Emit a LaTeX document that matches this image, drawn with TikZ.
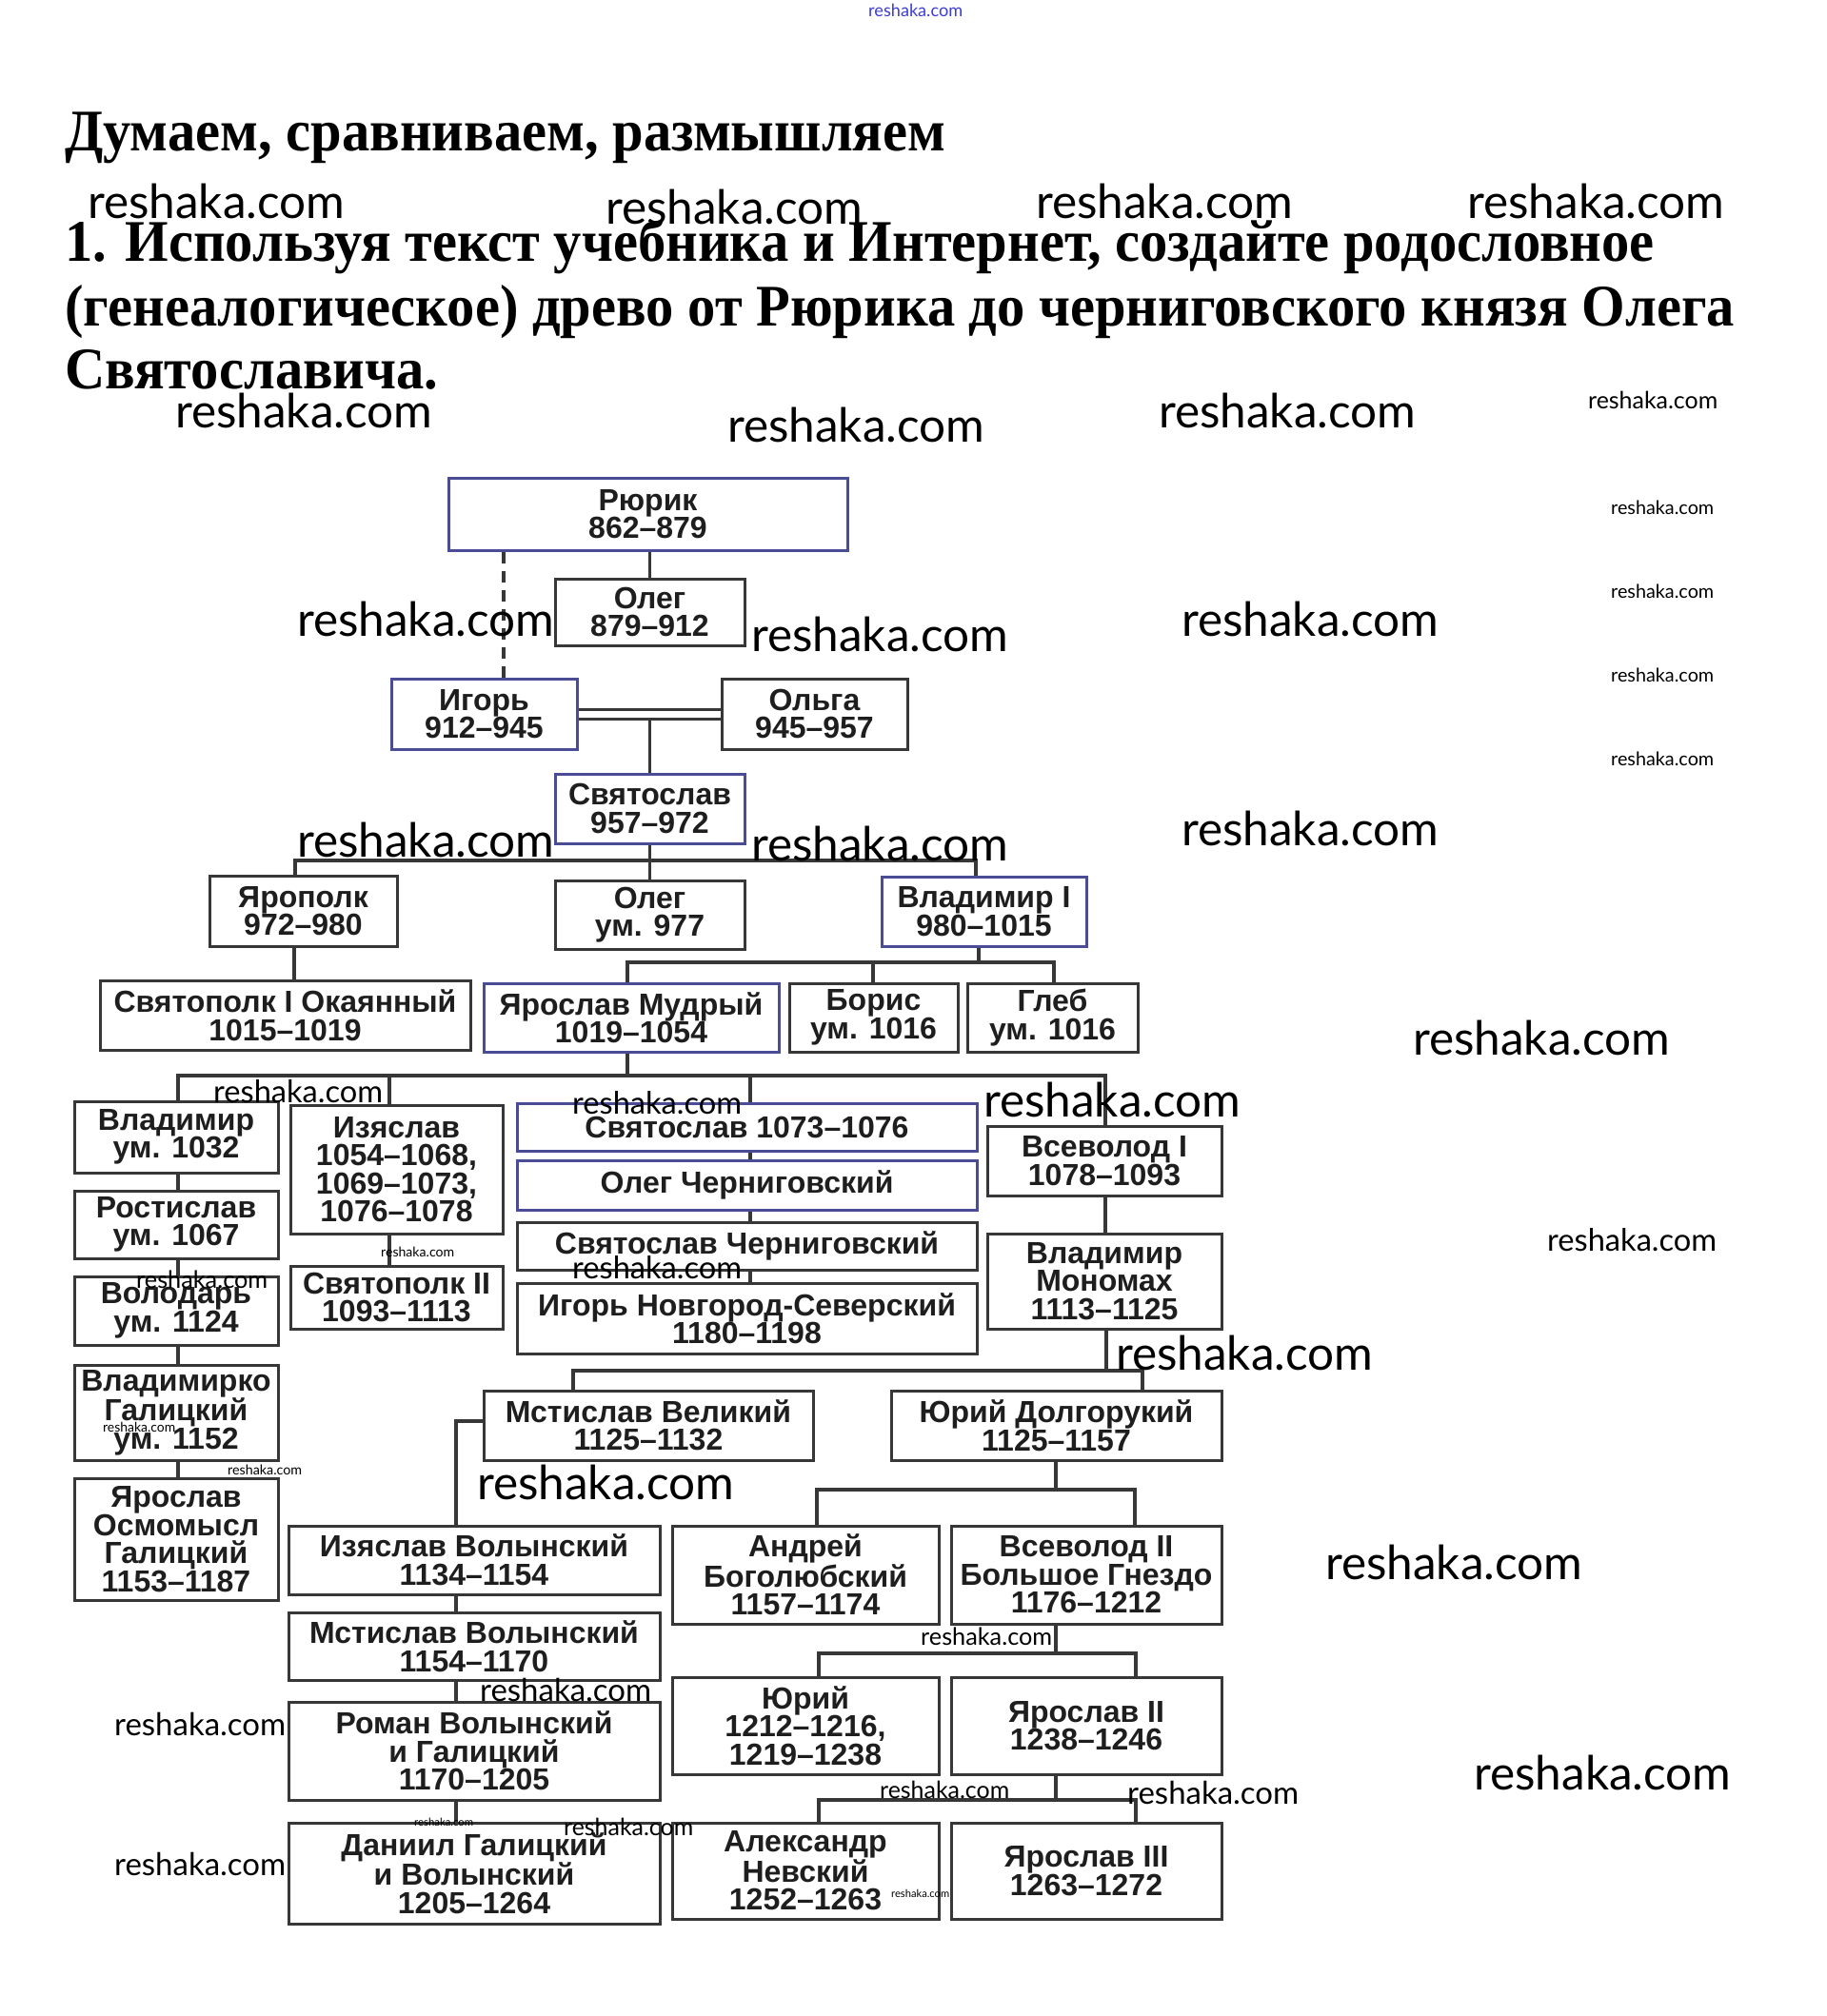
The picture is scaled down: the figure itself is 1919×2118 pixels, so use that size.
\documentclass[tikz,border=0pt]{standalone}
\usepackage{graphicx}
\usepackage{fontspec}
\setmainfont{Liberation Serif}
\newfontfamily\boxfont{Liberation Sans}
\newfontfamily\wmfont{Lato}
\definecolor{bluebd}{RGB}{75,76,150}
\definecolor{graybd}{RGB}{55,55,55}
\definecolor{txt}{RGB}{30,30,30}
\definecolor{wmblue}{RGB}{60,60,220}
\newcommand\wmk[1]{\resizebox{#1pt}{!}{\wmfont reshaka.com}}
\newcommand\hd[1]{\scalebox{0.944}[1]{#1}}
\tikzset{
 pbox/.style={draw=graybd, line width=3pt, fill=white, inner sep=0pt, align=center,
   font=\boxfont\bfseries\fontsize{32}{29.5}\selectfont, text=txt},
 lbox/.style={pbox, draw=bluebd},
 conn/.style={line width=3.5pt, draw=graybd},
 wm/.style={anchor=west, inner sep=0pt, text=black},
 head/.style={anchor=base west, inner sep=0pt, font=\bfseries\fontsize{62}{68}\selectfont},
}
\begin{document}
\begin{tikzpicture}[x=1pt,y=-1pt]
\useasboundingbox[fill=white] (0,0) rectangle (1919,2118);

% headings
\node[head] (t1) at (68,158) {\hd{Думаем, сравниваем, размышляем}};
\node[head] (t2) at (68,274) {\hd{1. Используя текст учебника и Интернет, создайте родословное}};
\node[head] (t3) at (68,342) {\hd{(генеалогическое) древо от Рюрика до черниговского князя Олега}};
\node[head] (t4) at (68,408) {\hd{Святославича.}};

% boxes
\node[lbox, minimum width=419pt, minimum height=76pt] (rurik) at (680.5,540) {Рюрик\\862–879};
\node[pbox, minimum width=199pt, minimum height=70pt] (oleg1) at (682.5,643) {Олег\\879–912};
\node[lbox, minimum width=195pt, minimum height=74pt] (igor) at (508.5,750) {Игорь\\912–945};
\node[pbox, minimum width=195pt, minimum height=74pt] (olga) at (855.5,750) {Ольга\\945–957};
\node[lbox, minimum width=199pt, minimum height=73pt] (svyat) at (682.5,849.5) {Святослав\\957–972};
\node[pbox, minimum width=197pt, minimum height=74pt] (yaropolk) at (318.5,957) {Ярополк\\972–980};
\node[pbox, minimum width=199pt, minimum height=72pt] (oleg2) at (682.5,961) {Олег\\ум. 977};
\node[lbox, minimum width=215pt, minimum height=73pt] (vlad1) at (1033.5,957.5) {Владимир I\\980–1015};
\node[pbox, minimum width=389pt, minimum height=73pt] (svyatopolk1) at (299.5,1066.5) {Святополк I Окаянный\\1015–1019};
\node[lbox, minimum width=310pt, minimum height=72pt] (yaroslav) at (663,1069) {Ярослав Мудрый\\1019–1054};
\node[pbox, minimum width=177pt, minimum height=72pt] (boris) at (917.5,1069) {Борис\\ум. 1016};
\node[pbox, minimum width=179pt, minimum height=72pt] (gleb) at (1105.5,1069) {Глеб\\ум. 1016};
\node[pbox, minimum width=214pt, minimum height=75pt] (vlad1032) at (185,1194.5) {Владимир\\ум. 1032};
\node[pbox, minimum width=223pt, minimum height=135pt] (izyaslav) at (416.5,1228.5) {Изяслав\\1054–1068,\\1069–1073,\\1076–1078};
\node[lbox, minimum width=483pt, minimum height=50pt] (svyat1073) at (784.5,1184) {Святослав 1073–1076};
\node[lbox, minimum width=483pt, minimum height=52pt] (olegch) at (784.5,1245) {Олег Черниговский};
\node[pbox, minimum width=483pt, minimum height=50pt] (svyatch) at (784.5,1309) {Святослав Черниговский};
\node[pbox, minimum width=483pt, minimum height=74pt] (igorns) at (784.5,1385) {Игорь Новгород-Северский\\1180–1198};
\node[pbox, minimum width=246pt, minimum height=73pt] (vsevolod1) at (1160,1219.5) {Всеволод I\\1078–1093};
\node[pbox, minimum width=246pt, minimum height=100pt] (monomakh) at (1160,1346) {Владимир\\Мономах\\1113–1125};
\node[pbox, minimum width=214pt, minimum height=71pt] (rostislav) at (185,1286.5) {Ростислав\\ум. 1067};
\node[pbox, minimum width=214pt, minimum height=72pt] (volodar) at (185,1377) {Володарь\\ум. 1124};
\node[pbox, minimum width=223pt, minimum height=66pt] (svyatopolk2) at (416.5,1363) {Святополк II\\1093–1113};
\node[pbox, minimum width=214pt, minimum height=100pt] (vladimirko) at (185,1484) {Владимирко\\Галицкий\\ум. 1152};
\node[pbox, minimum width=214pt, minimum height=128pt] (osmomysl) at (185,1617) {Ярослав\\Осмомысл\\Галицкий\\1153–1187};
\node[pbox, minimum width=346pt, minimum height=73pt] (mstislavv) at (681,1497.5) {Мстислав Великий\\1125–1132};
\node[pbox, minimum width=347pt, minimum height=73pt] (yuridolg) at (1109.5,1497.5) {Юрий Долгорукий\\1125–1157};
\node[pbox, minimum width=390pt, minimum height=72pt] (izyaslavvol) at (498,1639) {Изяслав Волынский\\1134–1154};
\node[pbox, minimum width=390pt, minimum height=71pt] (mstislavvol) at (498,1729.5) {Мстислав Волынский\\1154–1170};
\node[pbox, minimum width=390pt, minimum height=103pt] (roman) at (498,1839.5) {Роман Волынский\\и Галицкий\\1170–1205};
\node[pbox, minimum width=390pt, minimum height=106pt] (daniil) at (498,1968) {Даниил Галицкий\\и Волынский\\1205–1264};
\node[pbox, minimum width=280pt, minimum height=103pt] (andrey) at (846,1654.5) {Андрей\\Боголюбский\\1157–1174};
\node[pbox, minimum width=284pt, minimum height=103pt] (vsevolod2) at (1141,1654.5) {Всеволод II\\Большое Гнездо\\1176–1212};
\node[pbox, minimum width=280pt, minimum height=102pt] (yuri) at (846,1813) {Юрий\\1212–1216,\\1219–1238};
\node[pbox, minimum width=284pt, minimum height=102pt] (yaroslav2) at (1141,1813) {Ярослав II\\1238–1246};
\node[pbox, minimum width=280pt, minimum height=101pt] (alexandr) at (846,1965.5) {Александр\\Невский\\1252–1263};
\node[pbox, minimum width=284pt, minimum height=101pt] (yaroslav3) at (1141,1965.5) {Ярослав III\\1263–1272};

% connectors
\draw[conn] (rurik.south -| oleg1.north) -- (oleg1.north);
\draw[conn, dash pattern=on 12pt off 8pt] (rurik.south -| 529,0) -- (igor.north -| 529,0);
\draw[conn, line width=3pt] (igor.east |- 0,745) -- (olga.west |- 0,745);
\draw[conn, line width=3pt] (igor.east |- 0,755) -- (olga.west |- 0,755);
\draw[conn] (svyat.north) -- (svyat.north |- 0,755);
\draw[conn] (yaropolk.north -| 310,0) -- (310,904) -- (1025,904) -- (vlad1.north -| 1025,0);
\draw[conn] (svyat.south) -- (oleg2.north);
\draw[conn] (yaropolk.south -| 309,0) -- (svyatopolk1.north -| 309,0);
\draw[conn] (vlad1.south -| 1028,0) -- (1028,1011);
\draw[conn] (yaroslav.north -| 659,0) -- (659,1011) -- (1107,1011) -- (gleb.north -| 1107,0);
\draw[conn] (boris.north -| 917,0) -- (917,1011);
\draw[conn] (yaroslav.south -| 659,0) -- (659,1130);
\draw[conn] (vlad1032.north -| 187,0) -- (187,1130) -- (1161,1130) -- (vsevolod1.north -| 1161,0);
\draw[conn] (izyaslav.north -| 409,0) -- (409,1130);
\draw[conn] (svyat1073.north -| 788,0) -- (788,1130);
\draw[conn] (svyat1073.south -| 788,0) -- (olegch.north -| 788,0);
\draw[conn] (olegch.south -| 788,0) -- (svyatch.north -| 788,0);
\draw[conn] (svyatch.south -| 788,0) -- (igorns.north -| 788,0);
\draw[conn] (vlad1032.south -| 187,0) -- (rostislav.north -| 187,0);
\draw[conn] (rostislav.south -| 187,0) -- (volodar.north -| 187,0);
\draw[conn] (volodar.south -| 187,0) -- (vladimirko.north -| 187,0);
\draw[conn] (vladimirko.south -| 187,0) -- (osmomysl.north -| 187,0);
\draw[conn] (izyaslav.south -| 409,0) -- (svyatopolk2.north -| 409,0);
\draw[conn] (vsevolod1.south -| 1161,0) -- (monomakh.north -| 1161,0);
\draw[conn] (monomakh.south -| 1162,0) -- (1162,1440);
\draw[conn] (mstislavv.north -| 602,0) -- (602,1440) -- (1200,1440) -- (yuridolg.north -| 1200,0);
\draw[conn] (mstislavv.west |- 0,1493) -- (479,1493) -- (izyaslavvol.north -| 479,0);
\draw[conn] (izyaslavvol.south -| 479,0) -- (mstislavvol.north -| 479,0);
\draw[conn] (mstislavvol.south -| 479,0) -- (roman.north -| 479,0);
\draw[conn] (roman.south -| 479,0) -- (daniil.north -| 479,0);
\draw[conn] (yuridolg.south -| 1109,0) -- (1109,1565);
\draw[conn] (andrey.north -| 858,0) -- (858,1565) -- (1192,1565) -- (vsevolod2.north -| 1192,0);
\draw[conn] (vsevolod2.south -| 1109,0) -- (1109,1737);
\draw[conn] (yuri.north -| 860,0) -- (860,1737) -- (1193,1737) -- (yaroslav2.north -| 1193,0);
\draw[conn] (yaroslav2.south -| 1109,0) -- (1109,1891);
\draw[conn] (alexandr.north -| 860,0) -- (860,1891) -- (1193,1891) -- (yaroslav3.north -| 1193,0);

% watermarks
\node[wm, text=wmblue] (w0) at (912,11) {\wmk{99}};
\node[wm] (wa) at (92,211) {\wmk{270}};
\node[wm] (wb) at (636,217) {\wmk{270}};
\node[wm] (wc) at (1088,211) {\wmk{270}};
\node[wm] (wd) at (1541,211) {\wmk{270}};
\node[wm] (we) at (184,431) {\wmk{270}};
\node[wm] (wf) at (764,446) {\wmk{270}};
\node[wm] (wg) at (1217,431) {\wmk{270}};
\node[wm] (wh) at (1668,420) {\wmk{136}};
\node[wm] (wi) at (1692,533) {\wmk{108}};
\node[wm] (wj) at (1692,621) {\wmk{108}};
\node[wm] (wk) at (1692,709) {\wmk{108}};
\node[wm] (wl) at (1692,797) {\wmk{108}};
\node[wm] (wm1) at (312,650) {\wmk{270}};
\node[wm] (wn) at (789,666) {\wmk{270}};
\node[wm] (wo) at (1241,650) {\wmk{270}};
\node[wm] (wp) at (312,882) {\wmk{270}};
\node[wm] (wq) at (789,886) {\wmk{270}};
\node[wm] (wr) at (1241,870) {\wmk{270}};
\node[wm] (ws) at (1484,1090) {\wmk{270}};
\node[wm] (wt) at (224,1147) {\wmk{178}};
\node[wm] (wu) at (601,1159) {\wmk{178}};
\node[wm] (wv) at (1033,1155) {\wmk{270}};
\node[wm] (ww) at (1625,1303) {\wmk{178}};
\node[wm] (wx) at (400,1315) {\wmk{77}};
\node[wm] (wy) at (143,1344) {\wmk{138}};
\node[wm] (wz) at (601,1332) {\wmk{178}};
\node[wm] (waa) at (1172,1421) {\wmk{270}};
\node[wm] (wbb) at (108,1499) {\wmk{76}};
\node[wm] (wcc) at (239,1544) {\wmk{78}};
\node[wm] (wdd) at (501,1557) {\wmk{270}};
\node[wm] (wee) at (1392,1641) {\wmk{270}};
\node[wm] (wff) at (967,1719) {\wmk{138}};
\node[wm] (wgg) at (504,1775) {\wmk{180}};
\node[wm] (whh) at (120,1811) {\wmk{180}};
\node[wm] (wii) at (924,1880) {\wmk{136}};
\node[wm] (wjj) at (1184,1883) {\wmk{180}};
\node[wm] (wkk) at (1548,1862) {\wmk{270}};
\node[wm] (wll) at (435,1914) {\wmk{62}};
\node[wm] (wmm) at (592,1919) {\wmk{136}};
\node[wm] (wnn) at (120,1958) {\wmk{180}};
\node[wm] (woo) at (936,1989) {\wmk{61}};
\end{tikzpicture}
\end{document}
